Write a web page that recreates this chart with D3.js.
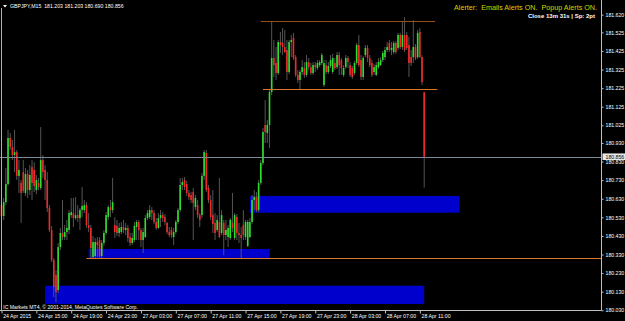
<!DOCTYPE html>
<html><head><meta charset="utf-8">
<script src="https://cdn.jsdelivr.net/npm/d3@7"></script>
<style>html,body{margin:0;padding:0;background:#000;overflow:hidden}text{font-family:"Liberation Sans",Arial,sans-serif;white-space:pre}</style>
</head><body>
<svg id="chart" width="625" height="321"></svg>
<script>
// ---- DATA (GBPJPY M15, bar index 0 = 24 Apr 2015 11:00) ----
const opens = [
180.596,180.537,180.612,180.709,180.957,180.908,180.865,180.881,180.753,180.715,
180.774,180.661,180.763,180.677,180.800,180.785,180.677,180.715,180.688,180.838,
180.785,180.731,180.580,180.462,180.300,180.220,180.139,180.370,180.446,180.424,
180.451,180.462,180.542,180.553,180.526,180.542,180.526,180.569,180.569,180.596,
180.489,180.473,180.316,180.322,180.397,180.408,180.322,180.392,180.446,180.532,
180.585,180.569,180.489,180.484,180.446,180.451,180.478,180.462,180.473,180.424,
180.392,180.408,180.478,180.505,180.462,180.408,180.424,180.526,180.532,180.569,
180.553,180.505,180.473,180.526,180.542,180.532,180.500,180.451,180.462,180.424,
180.451,180.505,180.569,180.704,180.731,180.709,180.661,180.650,180.666,180.585,
180.596,180.542,180.542,180.753,180.876,180.688,180.623,180.542,180.500,180.462,
180.505,180.446,180.500,180.435,180.424,180.419,180.500,180.419,180.532,180.446,
180.435,180.489,180.424,180.376,180.424,180.505,180.623,180.639,180.569,180.715,
180.822,181.027,180.984,181.027,181.204,181.387,181.360,181.306,181.473,181.468,
181.446,181.430,181.312,181.473,181.495,181.392,181.296,181.269,181.312,181.333,
181.296,181.365,181.338,181.306,181.349,181.333,181.349,181.360,181.242,181.349,
181.312,181.344,181.312,181.360,181.338,181.403,181.376,181.296,181.338,181.387,
181.349,181.333,181.306,181.360,181.457,181.376,181.285,181.403,181.441,181.387,
181.360,181.312,181.296,181.338,181.349,181.376,181.392,181.430,181.468,181.430,
181.419,181.468,181.441,181.511,181.446,181.511,181.511,181.457,181.392,181.392,
181.446,181.392,181.527,181.392,181.203];
const highs = [
180.623,180.634,180.795,181.000,180.984,180.946,181.000,180.892,180.838,180.731,
180.838,180.795,180.785,180.811,180.838,180.827,180.758,180.742,181.016,180.865,
180.811,180.774,180.596,180.484,180.311,180.247,180.392,180.473,180.623,180.489,
180.516,180.569,180.634,180.634,180.639,180.596,180.580,180.693,180.623,180.612,
180.553,180.489,180.430,180.419,180.424,180.424,180.408,180.462,180.558,180.596,
180.623,180.742,180.532,180.516,180.500,180.505,180.516,180.500,180.489,180.446,
180.446,180.505,180.516,180.516,180.473,180.473,180.542,180.569,180.596,180.585,
180.569,180.526,180.553,180.569,180.558,180.548,180.505,180.478,180.478,180.473,
180.516,180.580,180.742,180.742,180.747,180.726,180.677,180.666,180.688,180.650,
180.623,180.553,180.769,180.892,180.892,180.704,180.650,180.677,180.553,180.542,
180.742,180.569,180.516,180.516,180.489,180.526,180.661,180.553,180.548,180.500,
180.478,180.569,180.516,180.516,180.526,180.650,180.677,180.666,180.731,180.838,
181.011,181.161,181.054,181.215,181.581,181.484,181.446,181.484,181.527,181.548,
181.538,181.484,181.484,181.511,181.522,181.403,181.322,181.322,181.376,181.365,
181.403,181.387,181.360,181.365,181.365,181.376,181.376,181.414,181.376,181.376,
181.365,181.403,181.409,181.387,181.419,181.419,181.387,181.349,181.403,181.398,
181.365,181.344,181.371,181.468,181.511,181.403,181.398,181.457,181.457,181.403,
181.376,181.355,181.365,181.387,181.392,181.425,181.446,181.473,181.484,181.473,
181.479,181.479,181.522,181.522,181.581,181.607,181.527,181.500,181.430,181.591,
181.462,181.538,181.548,181.403,181.203];
const lows = [
180.505,180.516,180.596,180.699,180.892,180.838,180.774,180.731,180.661,180.500,
180.661,180.645,180.634,180.650,180.623,180.666,180.655,180.677,180.677,180.742,
180.623,180.558,180.451,180.289,180.101,180.074,180.123,180.354,180.408,180.408,
180.408,180.440,180.526,180.478,180.516,180.505,180.462,180.532,180.553,180.473,
180.451,180.311,180.311,180.311,180.316,180.311,180.311,180.376,180.435,180.516,
180.532,180.553,180.419,180.430,180.424,180.440,180.446,180.435,180.397,180.376,
180.381,180.397,180.408,180.408,180.370,180.338,180.419,180.516,180.521,180.516,
180.494,180.462,180.467,180.478,180.505,180.489,180.440,180.424,180.419,180.381,
180.440,180.494,180.558,180.677,180.677,180.645,180.623,180.607,180.408,180.569,
180.526,180.478,180.526,180.731,180.666,180.607,180.516,180.446,180.408,180.451,
180.419,180.435,180.327,180.408,180.370,180.408,180.451,180.408,180.408,180.392,
180.311,180.408,180.408,180.370,180.419,180.494,180.569,180.558,180.558,180.704,
180.811,180.930,180.930,180.903,181.188,181.285,181.269,181.296,181.414,181.403,
181.414,181.269,181.301,181.392,181.376,181.285,181.253,181.215,181.296,181.280,
181.285,181.322,181.296,181.296,181.312,181.322,181.338,181.349,181.231,181.301,
181.301,181.333,181.301,181.322,181.328,181.296,181.296,181.285,181.328,181.333,
181.285,181.274,181.296,181.349,181.338,181.269,181.269,181.392,181.365,181.338,
181.285,181.296,181.290,181.328,181.344,181.365,181.376,181.419,181.419,181.403,
181.409,181.409,181.430,181.435,181.430,181.419,181.430,181.285,181.344,181.360,
181.376,181.382,181.387,181.242,180.690];
const closes = [
180.537,180.612,180.709,180.957,180.908,180.865,180.881,180.753,180.785,180.661,
180.672,180.763,180.677,180.758,180.715,180.699,180.731,180.693,180.838,180.774,
180.731,180.580,180.462,180.300,180.155,180.128,180.370,180.446,180.424,180.451,
180.473,180.553,180.558,180.526,180.542,180.526,180.569,180.591,180.596,180.489,
180.473,180.365,180.397,180.397,180.381,180.322,180.392,180.446,180.542,180.585,
180.569,180.612,180.451,180.446,180.473,180.478,180.462,180.473,180.419,180.392,
180.419,180.484,180.505,180.462,180.408,180.451,180.526,180.553,180.569,180.553,
180.505,180.473,180.526,180.542,180.526,180.505,180.451,180.435,180.435,180.451,
180.505,180.569,180.704,180.720,180.693,180.661,180.639,180.623,180.607,180.634,
180.542,180.516,180.753,180.881,180.677,180.623,180.532,180.494,180.446,180.516,
180.424,180.542,180.435,180.462,180.473,180.516,180.473,180.542,180.446,180.435,
180.419,180.435,180.505,180.505,180.505,180.623,180.639,180.569,180.715,180.822,
180.989,180.989,181.027,181.204,181.387,181.349,181.306,181.473,181.457,181.446,
181.419,181.312,181.473,181.484,181.387,181.296,181.269,181.312,181.338,181.296,
181.365,181.338,181.306,181.349,181.338,181.360,181.365,181.403,181.360,181.312,
181.344,181.376,181.387,181.333,181.403,181.349,181.333,181.333,181.387,181.365,
181.296,181.285,181.360,181.457,181.349,181.285,181.387,181.441,181.387,181.349,
181.296,181.338,181.349,181.365,181.376,181.414,181.430,181.446,181.430,181.441,
181.468,181.419,181.511,181.446,181.511,181.430,181.441,181.360,181.360,181.446,
181.387,181.522,181.392,181.258,180.856];

const timeLabels = ["24 Apr 2015","24 Apr 15:00","24 Apr 19:00","24 Apr 23:00","27 Apr 03:00","27 Apr 07:00","27 Apr 11:00","27 Apr 15:00","27 Apr 19:00","27 Apr 23:00","28 Apr 03:00","28 Apr 07:00","28 Apr 11:00"];
const timeLabelBars = [0,16,32,48,64,80,96,112,128,144,160,176,192];
const priceTicks = [181.620,181.525,181.425,181.325,181.225,181.125,181.025,180.930,180.830,180.730,180.630,180.530,180.430,180.330,180.230,180.130,180.030];

// drawn objects (bar index / price)
const zoneStart = [40, 114, 20];
const zoneEnd   = [123, 210, 194];
const zoneTop   = [180.360, 180.645, 180.162];
const zoneBottom= [180.312, 180.555, 180.064];
const levelStart = [119, 120, 39];
const levelEnd   = [199, 200, null];
const levelPrice = [181.588, 181.219, 180.310];
const levelColor = ["#94501c", "#d8782a", "#d8782a"];

const symbolTitle = "GBPJPY,M15  181.203 181.203 180.690 180.856";
const currentPrice = 180.856;
const alertText = "Alerter:  Emails Alerts ON.  Popup Alerts ON.";
const closeText = "Close 13m 31s | Sp: 2pt";
const copyrightText = "IC Markets MT4, \u00A9 2001-2014, MetaQuotes Software Corp.";

// ---- LAYOUT ----
const W = 625, H = 321;
const plotRight = 601.5, plotBottom = 310.5;
const svg = d3.select("#chart");
svg.append("rect").attr("width", W).attr("height", H).attr("fill", "#000");

const x = d3.scaleLinear().domain([0, 194]).range([1.5, 424.2]);
const y = d3.scaleLinear().domain([180.030, 181.620]).range([310.3, 14.7]);

const plot = svg.append("g");
plot.append("clipPath").attr("id", "clip").append("rect")
  .attr("x", 0).attr("y", 0).attr("width", plotRight).attr("height", plotBottom);
const g = plot.append("g").attr("clip-path", "url(#clip)");

// zones (background)
g.selectAll("rect.zone").data(zoneStart.map((s, i) => i)).join("rect")
  .attr("class", "zone")
  .attr("x", i => x(zoneStart[i]))
  .attr("width", i => x(zoneEnd[i]) - x(zoneStart[i]))
  .attr("y", i => y(zoneTop[i]))
  .attr("height", i => y(zoneBottom[i]) - y(zoneTop[i]))
  .attr("fill", "#0000cd");

// candles
const bars = d3.range(opens.length);
g.selectAll("line.wick").data(bars).join("line")
  .attr("class", "wick")
  .attr("x1", i => x(i)).attr("x2", i => x(i))
  .attr("y1", i => y(Math.max(highs[i], opens[i], closes[i])))
  .attr("y2", i => y(Math.min(lows[i], opens[i], closes[i])))
  .attr("stroke", "#555").attr("stroke-width", 1);
g.selectAll("rect.body").data(bars).join("rect")
  .attr("class", "body")
  .attr("x", i => x(i) - 0.8).attr("width", 1.6)
  .attr("y", i => y(Math.max(opens[i], closes[i])))
  .attr("height", i => Math.max(0.8, Math.abs(y(opens[i]) - y(closes[i]))))
  .attr("fill", i => closes[i] >= opens[i] ? "#2ee02e" : "#f02a2a");

// levels
g.selectAll("line.level").data(levelPrice.map((p, i) => i)).join("line")
  .attr("class", "level")
  .attr("x1", i => x(levelStart[i]))
  .attr("x2", i => levelEnd[i] === null ? plotRight : x(levelEnd[i]))
  .attr("y1", i => Math.round(y(levelPrice[i])) + 0.5)
  .attr("y2", i => Math.round(y(levelPrice[i])) + 0.5)
  .attr("stroke", i => levelColor[i]).attr("stroke-width", 1);

// current price line
g.append("line").attr("x1", 0).attr("x2", plotRight)
  .attr("y1", Math.round(y(currentPrice)) + 0.5).attr("y2", Math.round(y(currentPrice)) + 0.5)
  .attr("stroke", "#7b8896").attr("stroke-width", 1);

// frame
svg.append("line").attr("x1", plotRight).attr("x2", plotRight).attr("y1", 0).attr("y2", plotBottom)
  .attr("stroke", "#c0c0c0");
svg.append("line").attr("x1", 0).attr("x2", plotRight).attr("y1", plotBottom).attr("y2", plotBottom)
  .attr("stroke", "#c0c0c0");
svg.append("line").attr("x1", 1.5).attr("x2", 1.5).attr("y1", 8).attr("y2", plotBottom)
  .attr("stroke", "#b0b0b0");

// price axis
const yAxis = d3.axisRight(y).tickValues(priceTicks).tickSize(2).tickPadding(2)
  .tickFormat(d3.format(".3f"));
const ya = svg.append("g").attr("transform", `translate(${plotRight},0)`).call(yAxis);
ya.select(".domain").remove();
ya.selectAll(".tick line").attr("stroke", "#c0c0c0");
ya.selectAll(".tick text").attr("fill", "#fff").attr("font-size", 5.2)
  .attr("font-family", '"Liberation Sans",Arial,sans-serif');

// current price label
const cpY = y(currentPrice);
svg.append("rect").attr("x", 602.5).attr("y", cpY - 3.3).attr("width", 22.5).attr("height", 6.6)
  .attr("fill", "#e8e8e8");
svg.append("text").attr("x", 605.5).attr("y", cpY + 1.9).attr("font-size", 5.2)
  .attr("fill", "#000").text(d3.format(".3f")(currentPrice));

// time axis
const xAxis = d3.axisBottom(x).tickValues(timeLabelBars).tickSize(3)
  .tickFormat((d, i) => timeLabels[i]);
const xa = svg.append("g").attr("transform", `translate(0,${plotBottom})`).call(xAxis);
xa.select(".domain").remove();
xa.selectAll(".tick line").attr("stroke", "#c0c0c0");
xa.selectAll(".tick text").attr("fill", "#fff").attr("font-size", 5.2)
  .attr("font-family", '"Liberation Sans",Arial,sans-serif')
  .attr("text-anchor", "start").attr("x", 1.2).attr("y", 7.6).attr("dy", 0);

// texts
svg.append("path").attr("d", "M3,5 L7,5 L5,7.5 Z").attr("fill", "#fff");
svg.append("text").attr("x", 10).attr("y", 8.3).attr("font-size", 5.2).attr("fill", "#fff")
  .text(symbolTitle);
svg.append("text").attr("x", 597).attr("y", 10).attr("font-size", 7.2).attr("fill", "#d4d400")
  .attr("text-anchor", "end").text(alertText);
svg.append("text").attr("x", 595).attr("y", 18.4).attr("font-size", 6).attr("font-weight", "bold")
  .attr("fill", "#fff").attr("text-anchor", "end").text(closeText);
svg.append("text").attr("x", 3.3).attr("y", 308.6).attr("font-size", 5.1).attr("fill", "#fff")
  .text(copyrightText);
</script>
</body></html>
